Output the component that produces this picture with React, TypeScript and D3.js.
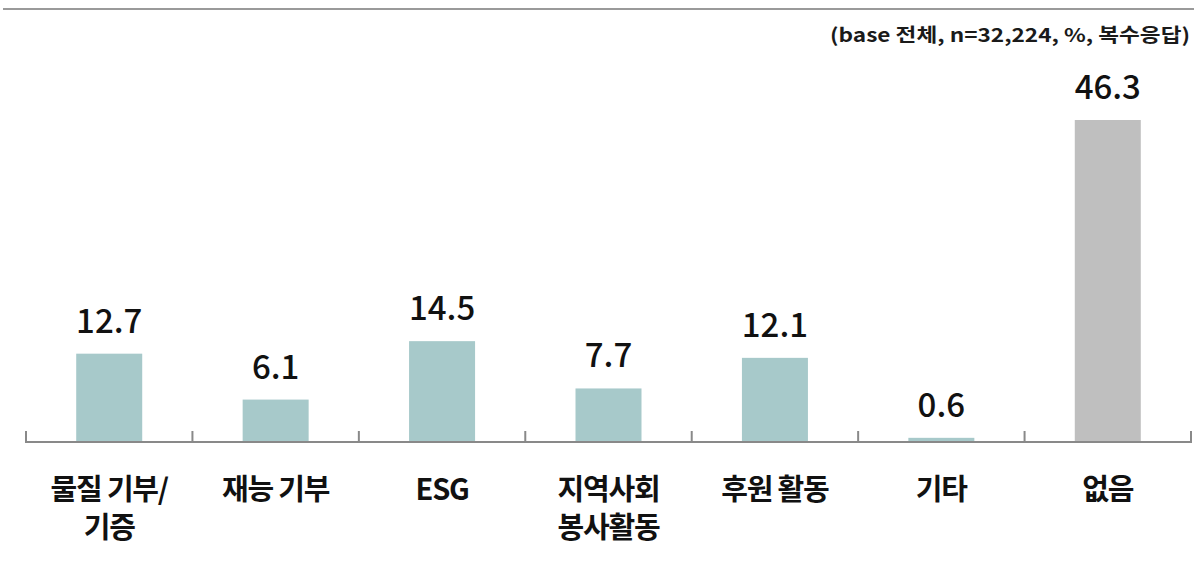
import React from "react";
import * as d3 from "d3";

const categories = ["물질 기부/\n기증", "재능 기부", "ESG", "지역사회\n봉사활동", "후원 활동", "기타", "없음"];
const values = [12.7, 6.1, 14.5, 7.7, 12.1, 0.6, 46.3];
const note = "(base 전체, n=32,224, %, 복수응답)";

const W = 1194;
const H = 565;
const axisY = 442;
const x0 = 26;
const x1 = 1191;

export default function App() {
  const band = d3.scaleBand<number>().domain(d3.range(categories.length)).range([x0, x1]);
  const y = d3.scaleLinear().domain([0, 46.3]).range([axisY, 120]);
  const ticks = d3.range(categories.length + 1).map((i) => x0 + i * band.step());
  const font = "'Noto Sans CJK KR', 'Noto Sans', sans-serif";
  return (
    <svg width={W} height={H} style={{ position: "absolute", left: 0, top: 0 }}>
      <line x1={3} x2={W} y1={9} y2={9} stroke="#9a9a9a" strokeWidth={2} />
      <text x={1190} y={42} textAnchor="end" fontFamily={font} fontWeight={700} fontSize={19} fill="#1a1a1a" textLength={360} lengthAdjust="spacingAndGlyphs">
        {note}
      </text>
      {values.map((v, i) => {
        const bx = band(i)! + band.bandwidth() / 2;
        const bw = 66;
        return (
          <g key={i}>
            <rect x={bx - bw / 2} y={y(v)} width={bw} height={axisY - y(v)} fill={i === values.length - 1 ? "#bfbfbf" : "#a7c9ca"} />
            <text x={bx} y={y(v) - 21} textAnchor="middle" fontFamily={font} fontSize={33} fontWeight={500} fill="#111">
              {v.toFixed(1)}
            </text>
            {categories[i].split("\n").map((line, j) => (
              <text key={j} x={bx} y={500 + j * 38} textAnchor="middle" fontFamily={font} fontSize={29} fontWeight={700} fill="#111" letterSpacing={-1.2}>
                {line}
              </text>
            ))}
          </g>
        );
      })}
      <line x1={x0} x2={x1} y1={axisY} y2={axisY} stroke="#898989" strokeWidth={2} />
      {ticks.map((t, i) => (
        <line key={i} x1={t} x2={t} y1={431} y2={443} stroke="#898989" strokeWidth={2} />
      ))}
    </svg>
  );
}
